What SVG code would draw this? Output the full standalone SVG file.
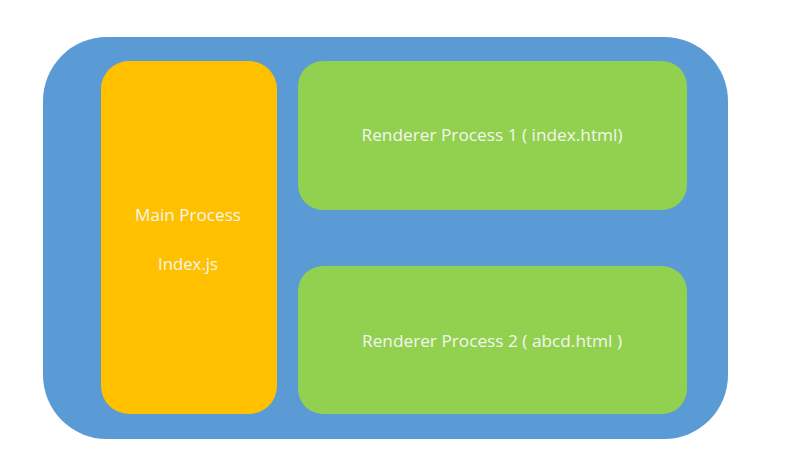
<svg xmlns="http://www.w3.org/2000/svg" width="801" height="450" viewBox="0 0 801 450">
<style>
.lbl{font-family:"Open Sans","Liberation Sans",sans-serif;font-size:16px;fill:#F4F6EE;text-anchor:middle}
</style>
<rect width="801" height="450" fill="#FFFFFF"/>
<g id="outer"><rect x="43" y="37" width="685" height="402" rx="64" ry="64" fill="#5B9BD5"/></g>
<g id="main-process">
<rect x="101" y="61" width="176" height="353" rx="28" ry="28" fill="#FFC000"/>
<text class="lbl" x="188" y="221" textLength="106" lengthAdjust="spacingAndGlyphs">Main Process</text>
<text class="lbl" x="188" y="270" textLength="60" lengthAdjust="spacingAndGlyphs">Index.js</text>
</g>
<g id="renderer-1">
<rect x="298" y="61" width="389" height="149" rx="25" ry="25" fill="#92D050"/>
<text class="lbl" x="492" y="141" textLength="261" lengthAdjust="spacingAndGlyphs">Renderer Process 1 ( index.html)</text>
</g>
<g id="renderer-2">
<rect x="298" y="266" width="389" height="148" rx="25" ry="25" fill="#92D050"/>
<text class="lbl" x="492" y="347" textLength="260" lengthAdjust="spacingAndGlyphs">Renderer Process 2 ( abcd.html )</text>
</g>
<g id="connectors"></g>
</svg>
